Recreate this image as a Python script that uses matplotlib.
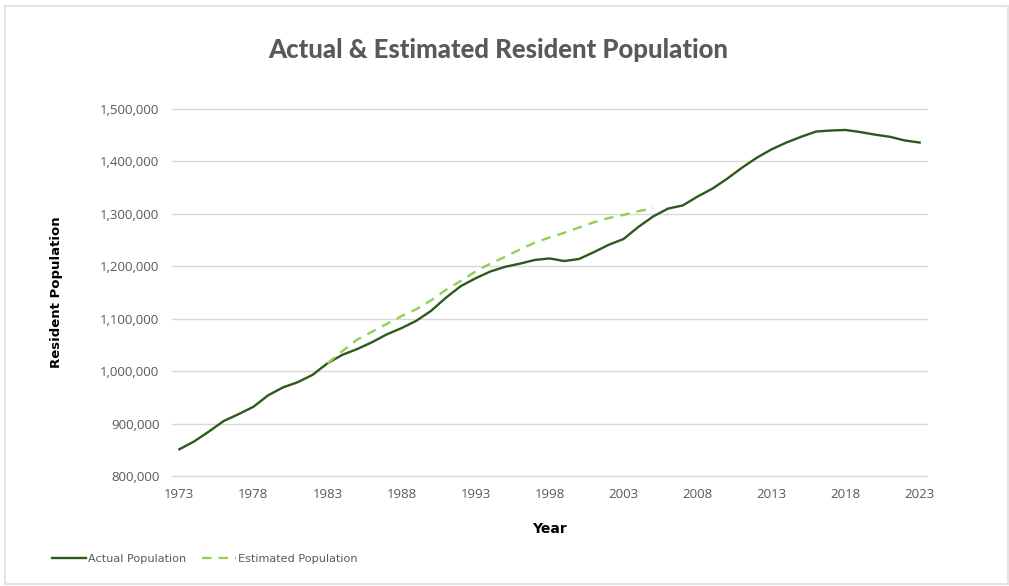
import matplotlib.pyplot as plt
from matplotlib.patches import Rectangle
from matplotlib.lines import Line2D
from matplotlib.ticker import FuncFormatter

# Actual resident population, 1973-2023
years = list(range(1973, 2024))
actual = [851000, 866000, 885000, 905000, 918000, 932000, 954000, 969000, 979000, 993000,
          1015000, 1031000, 1042000, 1055000, 1070000, 1082000, 1096000, 1115000, 1140000, 1162000,
          1177000, 1190000, 1199000, 1205000, 1212000, 1215000, 1210000, 1214000, 1227000, 1241000,
          1252000, 1275000, 1295000, 1310000, 1316000, 1333000, 1348000, 1367000, 1388000, 1407000,
          1423000, 1436000, 1447000, 1457000, 1459000, 1460000, 1456000, 1451000, 1447000, 1440000,
          1436000]

# Estimated population, 1983-2005
est_years = list(range(1983, 2006))
estimated = [1015000, 1038000, 1060000, 1075000, 1090000, 1105000, 1118000, 1135000, 1155000, 1172000,
             1190000, 1205000, 1218000, 1232000, 1245000, 1255000, 1264000, 1274000, 1284000, 1292000,
             1298000, 1305000, 1311000]

xticks = list(range(1973, 2024, 5))
yticks = list(range(800000, 1500001, 100000))

gray = "#595959"

fig = plt.figure(figsize=(10.09, 5.86), dpi=100)
fig.patches.append(Rectangle((5 / 1009, 2 / 586), 1003 / 1009, 578 / 586,
                             transform=fig.transFigure, fill=False,
                             edgecolor="#e4e4e4", linewidth=1.5))

ax = fig.add_axes([172 / 1009, 1 - 476 / 586, 755 / 1009, 367 / 586])

ax.plot(years, actual, color="#2b5a1c", linewidth=1.7, label="Actual Population")
ax.plot(est_years, estimated, color="#92d050", linewidth=1.7, linestyle=(0, (4, 3)),
        label="Estimated Population")

ax.set_xlim(1972.5, 2023.5)
ax.set_ylim(800000, 1500000)
ax.set_xticks(xticks)
ax.set_yticks(yticks)
ax.yaxis.set_major_formatter(FuncFormatter(lambda v, p: f"{int(v):,}"))
ax.grid(axis="y", color="#d9d9d9", linewidth=1)
for gl in ax.get_ygridlines():
    gl.set_clip_on(False)
ax.set_axisbelow(True)
for s in ax.spines.values():
    s.set_visible(False)
ax.tick_params(length=0, colors=gray, labelsize=9.5, pad=9)
for lab in ax.get_xticklabels() + ax.get_yticklabels():
    lab.set_fontfamily("Open Sans")

ax.set_xlabel("Year", fontsize=10, fontweight="bold", color="black", labelpad=15)
ax.set_ylabel("Resident Population", fontsize=9.5, fontweight="bold", color="black", labelpad=27)

fig.text(498 / 1009, 1 - 50 / 586, "Actual & Estimated Resident Population",
         ha="center", va="center", fontsize=18.5, fontweight="black", color=gray,
         fontfamily="Lato")

handles = [Line2D([], [], color="#2b5a1c", linewidth=1.7),
           Line2D([], [], color="#92d050", linewidth=1.7, linestyle=(0, (4, 3)))]
fig.legend(handles, ["Actual Population", "Estimated Population"],
           loc="center left", bbox_to_anchor=(42 / 1009, 1 - 559 / 586), ncol=2,
           frameon=False, fontsize=8.1, labelcolor=gray, handlelength=3.0,
           handletextpad=0.2, columnspacing=1.4)

fig.savefig("out.png", dpi=100)
